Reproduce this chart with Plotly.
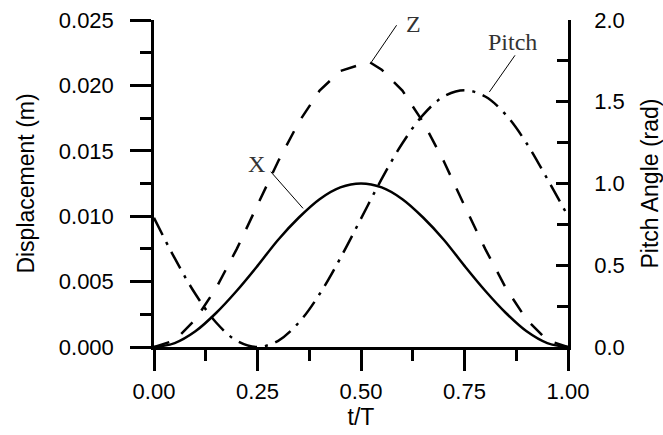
import plotly.graph_objects as go

# ---- data ----
t = [0.00, 0.05, 0.10, 0.15, 0.20, 0.25, 0.30, 0.35, 0.40, 0.45, 0.50,
     0.55, 0.60, 0.65, 0.70, 0.75, 0.80, 0.85, 0.90, 0.95, 1.00]
x_disp = [0.0000, 0.0003, 0.0012, 0.0026, 0.0043, 0.0062, 0.0082, 0.0099, 0.0113, 0.0122, 0.0125,
          0.0122, 0.0113, 0.0099, 0.0082, 0.0062, 0.0043, 0.0026, 0.0012, 0.0003, 0.0000]

t_z = [0.00, 0.05, 0.10, 0.15, 0.20, 0.25, 0.30, 0.35, 0.40, 0.45, 0.50, 0.52,
       0.55, 0.60, 0.65, 0.70, 0.75, 0.80, 0.85, 0.90, 0.95, 1.00]
z_disp = [0.0000, 0.0005, 0.0021, 0.0045, 0.0075, 0.0108, 0.0142, 0.0172, 0.0196, 0.0211, 0.0216, 0.0218,
          0.0212, 0.0196, 0.0172, 0.0142, 0.0108, 0.0075, 0.0045, 0.0021, 0.0005, 0.0000]

pitch = [0.790, 0.543, 0.324, 0.150, 0.038, 0.000, 0.038, 0.150, 0.324, 0.543, 0.785,
         1.028, 1.246, 1.420, 1.532, 1.570, 1.532, 1.420, 1.246, 1.028, 0.800]

x_ticks = [0.00, 0.25, 0.50, 0.75, 1.00]
x_tick_labels = ["0.00", "0.25", "0.50", "0.75", "1.00"]
y_ticks = [0.000, 0.005, 0.010, 0.015, 0.020, 0.025]
y_tick_labels = ["0.000", "0.005", "0.010", "0.015", "0.020", "0.025"]
y2_ticks = [0.0, 0.5, 1.0, 1.5, 2.0]
y2_tick_labels = ["0.0", "0.5", "1.0", "1.5", "2.0"]

LW = 2.5
fig = go.Figure()
fig.add_trace(go.Scatter(x=t, y=x_disp, mode="lines", name="X",
                         line=dict(color="black", width=LW, shape="spline")))
fig.add_trace(go.Scatter(x=t_z, y=z_disp, mode="lines", name="Z",
                         line=dict(color="black", width=LW, dash="16px,15px")))
fig.add_trace(go.Scatter(x=t, y=pitch, mode="lines", name="Pitch", yaxis="y2",
                         line=dict(color="black", width=LW, shape="spline",
                                   dash="19px,8px,3px,8px")))

tickfont = dict(family="Liberation Sans, Arial", size=22, color="black")
titlefont = dict(family="Liberation Sans, Arial", size=23, color="black")

fig.update_layout(
    width=663, height=435,
    margin=dict(l=154, r=95, t=20, b=88),
    paper_bgcolor="white", plot_bgcolor="white",
    showlegend=False,
    xaxis=dict(range=[0, 1], tickvals=x_ticks, ticktext=x_tick_labels, automargin=False,
               showgrid=False, zeroline=False, showline=True, linecolor="black", linewidth=2.5,
               ticks="outside", ticklen=21, tickwidth=2.5, tickcolor="black",
               minor=dict(dtick=0.125, ticks="outside", ticklen=11, tickwidth=2.5, tickcolor="black"),
               tickfont=tickfont, ticklabelstandoff=2,
               title=dict(text="t/T", font=titlefont, standoff=0)),
    yaxis=dict(range=[0, 0.025], tickvals=y_ticks, ticktext=y_tick_labels, automargin=False,
               showgrid=False, zeroline=False, showline=True, linecolor="black", linewidth=2.5,
               ticks="outside", ticklen=21, tickwidth=2.5, tickcolor="black",
               minor=dict(dtick=0.0025, ticks="outside", ticklen=11, tickwidth=2.5, tickcolor="black"),
               tickfont=tickfont, ticklabelstandoff=12,
               title=dict(text="Displacement (m)", font=titlefont, standoff=18)),
    yaxis2=dict(range=[0, 2], overlaying="y", side="right", anchor="x", automargin=False,
                tickvals=y2_ticks, ticktext=y2_tick_labels,
                showgrid=False, zeroline=False, showline=True, linecolor="black", linewidth=2.5,
                ticks="inside", ticklen=12, tickwidth=2.5, tickcolor="black",
                minor=dict(dtick=0.25, ticks="inside", ticklen=11, tickwidth=2.5, tickcolor="black"),
                tickfont=tickfont, ticklabelstandoff=19,
                title=dict(text="Pitch Angle (rad)", font=titlefont, standoff=19)),
)

# labels with leader lines
lab_font = dict(family="Liberation Serif, Times New Roman", size=24, color="#333")
labels = [
    # text, text x, text y, leader from (x,y) to (x,y)
    ("Z", 0.628, 0.0247, 0.586, 0.0246, 0.5255, 0.0218),
    ("Pitch", 0.866, 0.0233, 0.872, 0.0223, 0.810, 0.0195),
    ("X", 0.2475, 0.0140, 0.282, 0.0134, 0.360, 0.0106),
]
for txt, tx, ty, x0, y0, x1, y1 in labels:
    fig.add_annotation(x=tx, y=ty, xref="x", yref="y", text=txt, showarrow=False,
                       font=lab_font, xanchor="center", yanchor="middle")
    fig.add_shape(type="line", xref="x", yref="y", x0=x0, y0=y0, x1=x1, y1=y1,
                  line=dict(color="black", width=1))

fig.write_html("out.html", config={"displayModeBar": False},
               post_script="document.body.style.margin='0px';document.body.style.overflow='hidden';")
